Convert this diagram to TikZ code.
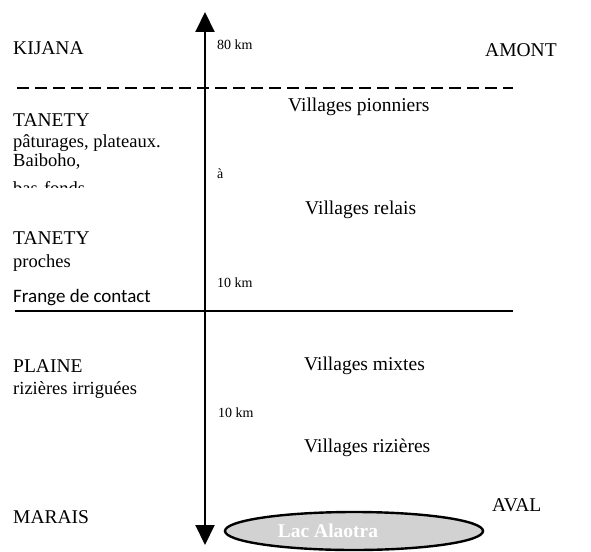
\documentclass[tikz,border=0pt]{standalone}
\usepackage{fontspec}
\setmainfont{Liberation Serif}
\newfontfamily\calfont{Carlito}
\usetikzlibrary{arrows.meta,shapes.geometric}
\tikzset{
  lbl/.style={anchor=west, inner sep=0pt, font=\fontsize{19.5}{22}\selectfont},
  sub/.style={anchor=west, inner sep=0pt, font=\fontsize{18.5}{21}\selectfont},
  vil/.style={anchor=west, inner sep=0pt, font=\fontsize{19.5}{22}\selectfont},
  km/.style={anchor=west, inner sep=0pt, font=\fontsize{14}{16}\selectfont},
  axis/.style={line width=2pt, {Triangle[length=20pt,width=19pt]}-{Triangle[length=20pt,width=19pt]}},
  sep/.style={line width=1.8pt},
  lake/.style={draw, line width=2.4pt, fill=gray!35},
}
\begin{document}
\begin{tikzpicture}[x=1pt,y=-1pt]
\useasboundingbox (0,0) rectangle (591,551);
% separators
\coordinate (dl) at (17,88); \coordinate (dr) at (513,88);
\coordinate (sl) at (15,311); \coordinate (sr) at (513,311);
\draw[sep, dash pattern=on 12pt off 6pt] (dl) -- (dr);
\draw[sep] (sl) -- (sr);
% axis
\coordinate (top) at (205,12);
\coordinate (bot) at (205,545);
\draw[axis] (bot) -- (top);
% left labels
\node[lbl] (kijana) at (13,48) {KIJANA};
\node[lbl] (tanety1) at (13,120) {TANETY};
\node[sub] (pat) at (13,143) {pâturages, plateaux.};
\node[sub] (bai) at (13,162) {Baiboho,};
\begin{scope}
\clip (0,170) rectangle (200,187);
\node[sub, anchor=base west] (bas) at (13,194) {bas-fonds};
\end{scope}
\node[lbl] (tanety2) at (13,238) {TANETY};
\node[sub] (proches) at (13,263) {proches};
\node[anchor=west, inner sep=0pt, font=\calfont\fontsize{19}{22}\selectfont] (frange) at (13,298) {Frange de contact};
\node[lbl] (plaine) at (13,366) {PLAINE};
\node[sub] (riz) at (13,390) {rizières irriguées};
\node[lbl] (marais) at (13,517) {MARAIS};
% km labels
\node[km] (km80) at (217,45) {80 km};
\node[km] (a) at (217,174) {à};
\node[km] (km10a) at (217,283) {10 km};
\node[km] (km10b) at (218,413) {10 km};
% villages
\node[vil] (vp) at (288,107) {Villages pionniers};
\node[vil] (vr) at (305,210) {Villages relais};
\node[vil] (vm) at (304,366) {Villages mixtes};
\node[vil] (vz) at (304,448) {Villages rizières};
% right labels
\node[lbl] (amont) at (485,50) {AMONT};
\node[lbl] (aval) at (492,505) {AVAL};
% lake
\node[lake, ellipse, minimum width=258pt, minimum height=38pt, inner sep=0pt] (lac) at (354,531) {};
\node[anchor=center, inner sep=0pt, text=white, font=\bfseries\fontsize{19.5}{22}\selectfont] (lactxt) at (328,531) {Lac Alaotra};
\end{tikzpicture}
\end{document}
